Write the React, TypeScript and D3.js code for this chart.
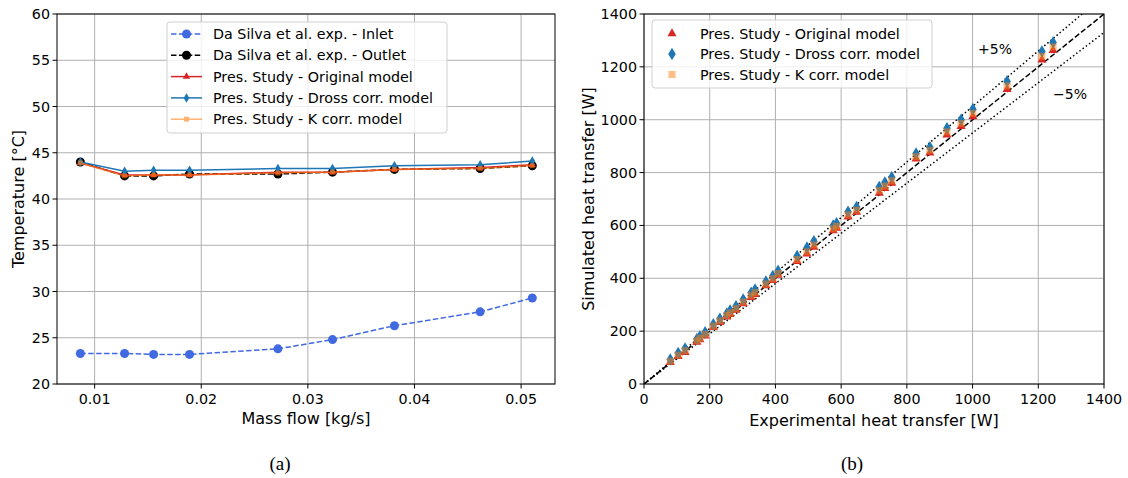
import React, { useEffect, useRef } from "react";
import * as d3 from "d3";

// ---- (a) temperature vs mass flow ----
const massFlow = [0.00866, 0.01281, 0.01553, 0.0189, 0.02719, 0.03231, 0.03812, 0.04616, 0.05105];
const tInlet = [23.3, 23.3, 23.2, 23.2, 23.8, 24.8, 26.3, 27.8, 29.3];
const tOutlet = [44.0, 42.5, 42.5, 42.7, 42.7, 42.9, 43.2, 43.3, 43.6];
const tOriginal = [43.9, 42.6, 42.6, 42.6, 42.9, 42.9, 43.2, 43.4, 43.7];
const tDross = [44.0, 43.0, 43.1, 43.1, 43.3, 43.3, 43.6, 43.7, 44.1];
const tKcorr = [43.9, 42.5, 42.6, 42.6, 42.8, 42.9, 43.2, 43.3, 43.6];
const tempTicks = [20, 25, 30, 35, 40, 45, 50, 55, 60];
const flowTicks = [0.01, 0.02, 0.03, 0.04, 0.05];

// ---- (b) simulated vs experimental heat transfer ----
const qExp = [80, 104, 125, 161, 170, 186, 211, 231, 252, 262, 280, 302, 326, 338, 371, 392, 408, 466, 496, 517, 576, 586, 621, 647, 716, 733, 754, 828, 870, 922, 965, 1001, 1105, 1211, 1245];
const qOriginal = [82, 105, 120, 158, 168, 182, 214, 233, 254, 263, 280, 304, 328, 339, 372, 392, 412, 464, 492, 518, 580, 590, 632, 650, 722, 740, 760, 852, 875, 943, 975, 1012, 1115, 1226, 1262];
const qDross = [93, 117, 134, 170, 180, 196, 226, 247, 267, 278, 294, 320, 345, 357, 388, 409, 428, 484, 516, 540, 600, 608, 652, 670, 745, 762, 782, 872, 896, 968, 1000, 1040, 1145, 1258, 1292];
const qKcorr = [86, 109, 126, 163, 173, 188, 219, 239, 259, 269, 285, 310, 334, 346, 378, 398, 418, 471, 500, 526, 587, 597, 640, 658, 732, 749, 769, 860, 884, 954, 986, 1024, 1128, 1240, 1275];
const heatTicks = [0, 200, 400, 600, 800, 1000, 1200, 1400];

const FONT = "DejaVu Sans, sans-serif";
const RED = "#d62728";
const BLUE = "#1f77b4";
const ORANGE = "#ff7f0e";

// matplotlib-like thin diamond
const thinDiamond = {
  draw(ctx: any, size: number) {
    const h = Math.sqrt(size) * 0.75;
    const w = h * 0.6;
    ctx.moveTo(0, -h);
    ctx.lineTo(w, 0);
    ctx.lineTo(0, h);
    ctx.lineTo(-w, 0);
    ctx.closePath();
  },
};

const App = () => {
  const svgRef = useRef<SVGSVGElement>(null);

  useEffect(() => {
    const svg = d3.select(svgRef.current);
    svg.selectAll("*").remove();

    const gridColor = "#b0b0b0";

    const drawFrame = (x: any, y: any, xt: number[], yt: number[]) => {
      const [x0, x1] = x.range();
      const [y0, y1] = y.range();
      const g = svg.append("g");
      xt.forEach((t) => {
        g.append("line").attr("x1", x(t)).attr("x2", x(t)).attr("y1", y0).attr("y2", y1)
          .attr("stroke", gridColor).attr("stroke-width", 1);
      });
      yt.forEach((t) => {
        g.append("line").attr("x1", x0).attr("x2", x1).attr("y1", y(t)).attr("y2", y(t))
          .attr("stroke", gridColor).attr("stroke-width", 1);
      });
      return g;
    };

    const drawAxes = (x: any, y: any, xt: number[], yt: number[], xf: (v: number) => string, yf: (v: number) => string) => {
      const [x0, x1] = x.range();
      const [y0, y1] = y.range();
      const g = svg.append("g");
      g.append("rect").attr("x", x0).attr("y", y1).attr("width", x1 - x0).attr("height", y0 - y1)
        .attr("fill", "none").attr("stroke", "#000").attr("stroke-width", 1);
      xt.forEach((t) => {
        g.append("line").attr("x1", x(t)).attr("x2", x(t)).attr("y1", y0).attr("y2", y0 + 4.5)
          .attr("stroke", "#000");
        g.append("text").attr("x", x(t)).attr("y", y0 + 15).attr("dy", "0.35em").attr("text-anchor", "middle")
          .style("font-family", FONT).style("font-size", "14.3px").text(xf(t));
      });
      yt.forEach((t) => {
        g.append("line").attr("x1", x0 - 4.5).attr("x2", x0).attr("y1", y(t)).attr("y2", y(t))
          .attr("stroke", "#000");
        g.append("text").attr("x", x0 - 7).attr("y", y(t)).attr("dy", "0.35em").attr("text-anchor", "end")
          .style("font-family", FONT).style("font-size", "14.3px").text(yf(t));
      });
    };

    const sym = (type: any, size: number) => d3.symbol().type(type).size(size)();

    // ================= (a) =================
    const xA = d3.scaleLinear().domain([0.00647, 0.05318]).range([57, 555]);
    const yA = d3.scaleLinear().domain([20, 60]).range([384, 14]);
    drawFrame(xA, yA, flowTicks, tempTicks);

    const seriesA = [
      { name: "Da Silva et al. exp. - Inlet", vals: tInlet, color: "royalblue", dash: "5.5,2.4", marker: d3.symbolCircle, msize: 64, alpha: 1 },
      { name: "Da Silva et al. exp. - Outlet", vals: tOutlet, color: "#000", dash: "5.5,2.4", marker: d3.symbolCircle, msize: 64, alpha: 1 },
      { name: "Pres. Study - Original model", vals: tOriginal, color: RED, dash: null, marker: d3.symbolTriangle, msize: 24, alpha: 1 },
      { name: "Pres. Study - Dross corr. model", vals: tDross, color: BLUE, dash: null, marker: thinDiamond, msize: 40, alpha: 1 },
      { name: "Pres. Study - K corr. model", vals: tKcorr, color: ORANGE, dash: null, marker: d3.symbolSquare, msize: 24, alpha: 0.6 },
    ];

    const lineA = d3.line<number>().x((_, i) => xA(massFlow[i])).y((d) => yA(d));
    const plotA = svg.append("g");
    seriesA.forEach((s) => {
      const gs = plotA.append("g").attr("opacity", s.alpha);
      gs.append("path").attr("d", lineA(s.vals)).attr("fill", "none").attr("stroke", s.color)
        .attr("stroke-width", 1.5).attr("stroke-dasharray", s.dash);
      gs.selectAll("path.m").data(s.vals).enter().append("path").attr("class", "m")
        .attr("d", sym(s.marker, s.msize))
        .attr("transform", (d, i) => `translate(${xA(massFlow[i])},${yA(d)})`)
        .attr("fill", s.color);
    });
    drawAxes(xA, yA, flowTicks, tempTicks, d3.format(".2f"), d3.format("d"));

    // legend (a)
    const legA = svg.append("g");
    legA.append("rect").attr("x", 167).attr("y", 22).attr("width", 280).attr("height", 111).attr("rx", 3)
      .attr("fill", "#fff").attr("fill-opacity", 0.8).attr("stroke", "#d0d0d0");
    seriesA.forEach((s, i) => {
      const yy = 34 + i * 21.3;
      const gs = legA.append("g").attr("opacity", s.alpha);
      gs.append("line").attr("x1", 171).attr("x2", 202).attr("y1", yy).attr("y2", yy)
        .attr("stroke", s.color).attr("stroke-width", 1.5).attr("stroke-dasharray", s.dash);
      gs.append("path").attr("d", sym(s.marker, s.msize)).attr("transform", `translate(186.5,${yy})`).attr("fill", s.color);
      legA.append("text").attr("x", 213).attr("y", yy).attr("dy", "0.35em")
        .style("font-family", FONT).style("font-size", "14.3px").text(s.name);
    });

    svg.append("text").attr("x", 306).attr("y", 418).attr("dy", "0.35em").attr("text-anchor", "middle")
      .style("font-family", FONT).style("font-size", "16px").text("Mass flow [kg/s]");
    svg.append("text").attr("transform", `translate(18,199) rotate(-90)`).attr("dy", "0.35em").attr("text-anchor", "middle")
      .style("font-family", FONT).style("font-size", "16px").text("Temperature [°C]");

    // ================= (b) =================
    const xB = d3.scaleLinear().domain([0, 1400]).range([644, 1104]);
    const yB = d3.scaleLinear().domain([0, 1400]).range([384, 14]);
    drawFrame(xB, yB, heatTicks, heatTicks);

    svg.append("defs").append("clipPath").attr("id", "clipB").append("rect")
      .attr("x", 644).attr("y", 14).attr("width", 460).attr("height", 370);
    const plotB = svg.append("g").attr("clip-path", "url(#clipB)");
    const refLines = [
      { k: 1, dash: "5.5,2.4" },
      { k: 1.05, dash: "1.5,2.5" },
      { k: 0.95, dash: "1.5,2.5" },
    ];
    refLines.forEach((r) => {
      plotB.append("line").attr("x1", xB(0)).attr("y1", yB(0)).attr("x2", xB(1400)).attr("y2", yB(1400 * r.k))
        .attr("stroke", "#000").attr("stroke-width", 1.5).attr("stroke-dasharray", r.dash);
    });

    const seriesB = [
      { name: "Pres. Study - Original model", vals: qOriginal, color: RED, marker: d3.symbolTriangle, msize: 36, alpha: 1 },
      { name: "Pres. Study - Dross corr. model", vals: qDross, color: BLUE, marker: thinDiamond, msize: 70, alpha: 1 },
      { name: "Pres. Study - K corr. model", vals: qKcorr, color: ORANGE, marker: d3.symbolSquare, msize: 50, alpha: 0.5 },
    ];
    seriesB.forEach((s) => {
      plotB.append("g").selectAll("path").data(s.vals).enter().append("path")
        .attr("d", sym(s.marker, s.msize))
        .attr("transform", (d, i) => `translate(${xB(qExp[i])},${yB(d)})`)
        .attr("fill", s.color).attr("fill-opacity", s.alpha);
    });

    svg.append("text").attr("x", 995).attr("y", 49).attr("dy", "0.35em").attr("text-anchor", "middle")
      .style("font-family", FONT).style("font-size", "14px").text("+5%");
    svg.append("text").attr("x", 1070).attr("y", 94).attr("dy", "0.35em").attr("text-anchor", "middle")
      .style("font-family", FONT).style("font-size", "14px").text("\u22125%");

    drawAxes(xB, yB, heatTicks, heatTicks, d3.format("d"), d3.format("d"));

    // legend (b)
    const legB = svg.append("g");
    legB.append("rect").attr("x", 652).attr("y", 20).attr("width", 280).attr("height", 68).attr("rx", 3)
      .attr("fill", "#fff").attr("fill-opacity", 0.8).attr("stroke", "#d0d0d0");
    seriesB.forEach((s, i) => {
      const yy = 33.5 + i * 20.5;
      legB.append("path").attr("d", sym(s.marker, s.msize)).attr("transform", `translate(672,${yy})`)
        .attr("fill", s.color).attr("fill-opacity", s.alpha);
      legB.append("text").attr("x", 700).attr("y", yy).attr("dy", "0.35em")
        .style("font-family", FONT).style("font-size", "14.3px").text(s.name);
    });

    svg.append("text").attr("x", 874).attr("y", 420).attr("dy", "0.35em").attr("text-anchor", "middle")
      .style("font-family", FONT).style("font-size", "16px").text("Experimental heat transfer [W]");
    svg.append("text").attr("transform", `translate(588,199) rotate(-90)`).attr("dy", "0.35em").attr("text-anchor", "middle")
      .style("font-family", FONT).style("font-size", "16px").text("Simulated heat transfer [W]");

    // captions
    svg.append("text").attr("x", 280).attr("y", 463).attr("dy", "0.35em").attr("text-anchor", "middle")
      .style("font-family", "Liberation Serif, serif").style("font-size", "19px").text("(a)");
    svg.append("text").attr("x", 852).attr("y", 463).attr("dy", "0.35em").attr("text-anchor", "middle")
      .style("font-family", "Liberation Serif, serif").style("font-size", "19px").text("(b)");
  }, []);

  return (
    <div style={{ position: "absolute", left: 0, top: 0, background: "#fff" }}>
      <svg ref={svgRef} width={1128} height={478} style={{ display: "block" }}></svg>
    </div>
  );
};

export default App;
